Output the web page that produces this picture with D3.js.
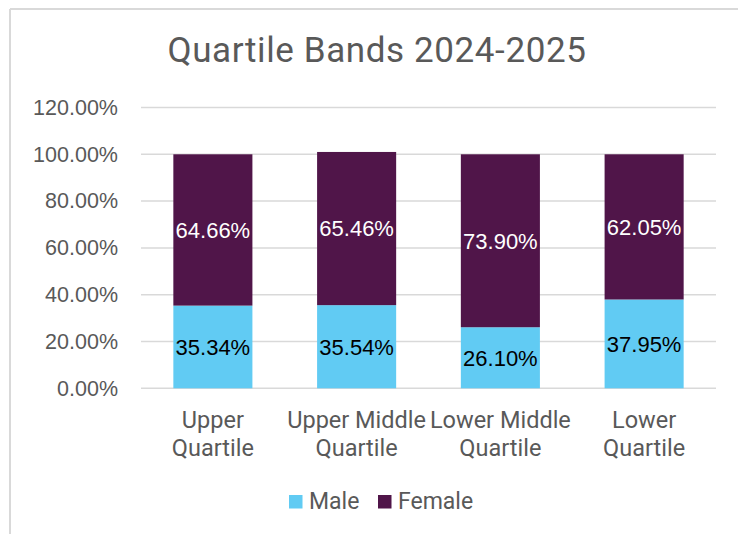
<!DOCTYPE html>
<html>
<head>
<meta charset="utf-8">
<script src="https://cdn.jsdelivr.net/npm/d3@7"></script>
<style>
  html, body { margin: 0; padding: 0; background: #fff; }
  svg { display: block; }
</style>
</head>
<body>
<svg id="chart" width="738" height="534"></svg>
<script>
// Gender split per pay quartile band
const categories = [["Upper", "Quartile"], ["Upper Middle", "Quartile"], ["Lower Middle", "Quartile"], ["Lower", "Quartile"]];
const maleValues = [35.34, 35.54, 26.10, 37.95];
const femaleValues = [64.66, 65.46, 73.90, 62.05];
const seriesNames = ["Male", "Female"];
const yTicks = [0, 20, 40, 60, 80, 100, 120];
const titleText = "Quartile Bands 2024-2025";

const colors = { Male: "#61CBF3", Female: "#501549" };
const labelColors = { Male: "#000000", Female: "#ffffff" };
const uiFont = "Roboto, 'Open Sans', sans-serif";
const labelFont = "'Liberation Sans', Arial, sans-serif";

const svg = d3.select("#chart");
const W = 738, H = 534;
const plot = { left: 141, right: 716, top: 107.5, bottom: 388.3 };

// Chart frame (top and left edges)
svg.append("line").attr("x1", 10).attr("x2", W).attr("y1", 9).attr("y2", 9)
  .attr("stroke", "#d9d9d9").attr("stroke-width", 2);
svg.append("line").attr("x1", 10).attr("x2", 10).attr("y1", 9).attr("y2", H)
  .attr("stroke", "#d9d9d9").attr("stroke-width", 2);

// Title
svg.append("text").attr("x", 377).attr("y", 62).attr("text-anchor", "middle")
  .attr("font-family", uiFont).attr("font-size", 35).attr("letter-spacing", 0.6)
  .attr("fill", "#595959")
  .text(titleText);

const keys = categories.map(c => c.join(" "));
const rows = keys.map((k, i) => ({ key: k, Male: maleValues[i], Female: femaleValues[i] }));

const x = d3.scaleBand().domain(keys).range([plot.left, plot.right]).paddingInner(0.45).paddingOuter(0.225);
const y = d3.scaleLinear().domain([0, 120]).range([plot.bottom, plot.top]);

// Gridlines
svg.append("g").selectAll("line").data(yTicks).join("line")
  .attr("x1", plot.left).attr("x2", plot.right)
  .attr("y1", d => y(d)).attr("y2", d => y(d))
  .attr("stroke", "#d9d9d9").attr("stroke-width", 1.5);

// Y axis labels
const yAxis = d3.axisLeft(y).tickValues(yTicks).tickSize(0).tickPadding(0)
  .tickFormat(d => d3.format(".2f")(d) + "%");
const gy = svg.append("g").attr("transform", `translate(118,0)`).call(yAxis);
gy.select(".domain").remove();
gy.selectAll("text").attr("font-family", labelFont).attr("font-size", 21.5).attr("fill", "#595959")
  .attr("dy", "0.32em");

// Stacked bars
const stack = d3.stack().keys(seriesNames);
const stacked = stack(rows);
const layers = svg.append("g").selectAll("g").data(stacked).join("g")
  .attr("fill", d => colors[d.key]);
layers.selectAll("rect").data(d => d).join("rect")
  .attr("x", d => x(d.data.key))
  .attr("width", x.bandwidth())
  .attr("y", d => y(d[1]))
  .attr("height", d => y(d[0]) - y(d[1]));

// Data labels centered in each segment
const labelLayers = svg.append("g").selectAll("g").data(stacked).join("g");
labelLayers.selectAll("text").data(d => d.map(v => ({ v, key: d.key }))).join("text")
  .attr("x", d => x(d.v.data.key) + x.bandwidth() / 2)
  .attr("y", d => (y(d.v[0]) + y(d.v[1])) / 2)
  .attr("dy", "0.36em")
  .attr("text-anchor", "middle")
  .attr("font-family", labelFont).attr("font-size", 22)
  .attr("fill", d => labelColors[d.key])
  .text(d => d3.format(".2f")(d.v.data[d.key]) + "%");

// Category labels (two lines each)
const gx = svg.append("g");
categories.forEach((lines, i) => {
  const t = gx.append("text").attr("text-anchor", "middle")
    .attr("font-family", uiFont).attr("font-size", 23.5).attr("fill", "#595959");
  lines.forEach((ln, j) => {
    t.append("tspan").attr("x", x(keys[i]) + x.bandwidth() / 2).attr("y", 427.5 + j * 28).text(ln);
  });
});

// Legend
const legendItems = [{ name: "Male", x: 289 }, { name: "Female", x: 378 }];
const lg = svg.append("g").selectAll("g").data(legendItems).join("g")
  .attr("transform", d => `translate(${d.x},495)`);
lg.append("rect").attr("width", 13.5).attr("height", 13.5).attr("fill", d => colors[d.name]);
lg.append("text").attr("x", 20).attr("y", 13.5)
  .attr("font-family", uiFont).attr("font-size", 23).attr("fill", "#595959")
  .text(d => d.name);
</script>
</body>
</html>
